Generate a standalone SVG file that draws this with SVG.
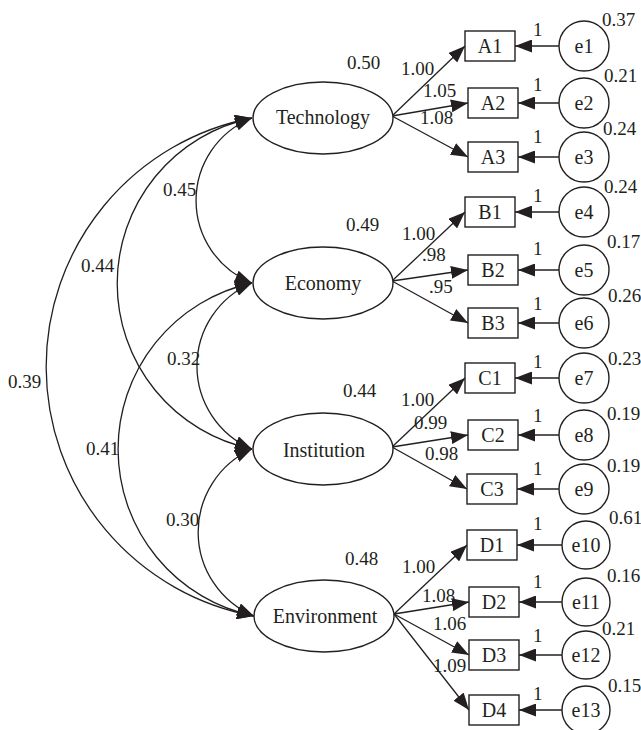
<svg xmlns="http://www.w3.org/2000/svg" width="641" height="730" viewBox="0 0 641 730" font-family="Liberation Serif, DejaVu Serif, serif">
<defs>
<marker id="ah" markerUnits="userSpaceOnUse" markerWidth="18" markerHeight="13" refX="17" refY="6.5" orient="auto-start-reverse">
<path d="M0,0 L17,6.5 L0,13 z" fill="#231f20"/>
</marker>
</defs>
<style>
.n{fill:#fff;stroke:#231f20;stroke-width:1.4}
.t{font-size:20px;fill:#231f20;text-anchor:middle}
.v{font-size:19px;fill:#231f20}
.c{fill:none;stroke:#231f20;stroke-width:1.3}
.a{marker-end:url(#ah)}
.b{marker-start:url(#ah);marker-end:url(#ah)}
</style>
<rect width="641" height="730" fill="#fff"/>
<g id="connectors">
<path class="c b" d="M252,118 A88.8,88.8 0 0,0 252,283"/>
<path class="c b" d="M252,283 A90.1,90.1 0 0,0 252,449"/>
<path class="c b" d="M252,449 A91,91 0 0,0 254,616"/>
<path class="c b" d="M252,118 A169,169 0 0,0 252,449"/>
<path class="c b" d="M252,283 A170.2,170.2 0 0,0 254,616"/>
<path class="c b" d="M252,118 A253.3,253.3 0 0,0 254,616"/>
<line class="c a" x1="392" y1="116" x2="465" y2="46"/>
<line class="c a" x1="392" y1="116" x2="468" y2="103"/>
<line class="c a" x1="392" y1="116" x2="468" y2="157"/>
<line class="c a" x1="392" y1="281" x2="465" y2="212"/>
<line class="c a" x1="392" y1="281" x2="468" y2="270"/>
<line class="c a" x1="392" y1="281" x2="468" y2="323"/>
<line class="c a" x1="392" y1="447" x2="465" y2="378"/>
<line class="c a" x1="392" y1="447" x2="468" y2="435"/>
<line class="c a" x1="392" y1="447" x2="467" y2="489"/>
<line class="c a" x1="394" y1="614" x2="467" y2="545"/>
<line class="c a" x1="394" y1="614" x2="469" y2="602"/>
<line class="c a" x1="394" y1="614" x2="469" y2="655"/>
<line class="c a" x1="394" y1="614" x2="469" y2="710"/>
<line class="c a" x1="559" y1="46" x2="515" y2="46"/>
<line class="c a" x1="559" y1="103" x2="518" y2="103"/>
<line class="c a" x1="559" y1="157" x2="518" y2="157"/>
<line class="c a" x1="559" y1="212" x2="515" y2="212"/>
<line class="c a" x1="559" y1="270" x2="518" y2="270"/>
<line class="c a" x1="559" y1="323" x2="518" y2="323"/>
<line class="c a" x1="559" y1="378" x2="515" y2="378"/>
<line class="c a" x1="559" y1="435" x2="518" y2="435"/>
<line class="c a" x1="559" y1="489" x2="517" y2="489"/>
<line class="c a" x1="562" y1="545" x2="517" y2="545"/>
<line class="c a" x1="562" y1="602" x2="519" y2="602"/>
<line class="c a" x1="562" y1="655" x2="519" y2="655"/>
<line class="c a" x1="562" y1="710" x2="519" y2="710"/>
</g>
<g id="labels">
<text class="v" x="163" y="196">0.45</text>
<text class="v" x="81" y="272">0.44</text>
<text class="v" x="167" y="365">0.32</text>
<text class="v" x="8" y="388">0.39</text>
<text class="v" x="86" y="455">0.41</text>
<text class="v" x="166" y="526">0.30</text>
<text class="v" x="347" y="69">0.50</text>
<text class="v" x="346" y="231">0.49</text>
<text class="v" x="343" y="397">0.44</text>
<text class="v" x="345" y="565">0.48</text>
<text class="v" x="401" y="75">1.00</text>
<text class="v" x="423" y="97">1.05</text>
<text class="v" x="420" y="124">1.08</text>
<text class="v" x="402" y="240">1.00</text>
<text class="v" x="422" y="261">.98</text>
<text class="v" x="429" y="293">.95</text>
<text class="v" x="401" y="406">1.00</text>
<text class="v" x="414" y="429">0.99</text>
<text class="v" x="425" y="460">0.98</text>
<text class="v" x="402" y="573">1.00</text>
<text class="v" x="422" y="602">1.08</text>
<text class="v" x="433" y="630">1.06</text>
<text class="v" x="433" y="672">1.09</text>
<text class="v" x="533" y="36">1</text>
<text class="v" x="533" y="91">1</text>
<text class="v" x="533" y="143">1</text>
<text class="v" x="533" y="202">1</text>
<text class="v" x="533" y="255">1</text>
<text class="v" x="533" y="310">1</text>
<text class="v" x="533" y="368">1</text>
<text class="v" x="533" y="422">1</text>
<text class="v" x="533" y="475">1</text>
<text class="v" x="533" y="530">1</text>
<text class="v" x="533" y="588">1</text>
<text class="v" x="533" y="642">1</text>
<text class="v" x="533" y="700">1</text>
<text class="v" x="602" y="26">0.37</text>
<text class="v" x="604" y="82">0.21</text>
<text class="v" x="603" y="135">0.24</text>
<text class="v" x="604" y="193">0.24</text>
<text class="v" x="607" y="248">0.17</text>
<text class="v" x="608" y="302">0.26</text>
<text class="v" x="608" y="365">0.23</text>
<text class="v" x="607" y="420">0.19</text>
<text class="v" x="607" y="472">0.19</text>
<text class="v" x="609" y="524">0.61</text>
<text class="v" x="607" y="582">0.16</text>
<text class="v" x="602" y="635">0.21</text>
<text class="v" x="608" y="692">0.15</text>
</g>
<g id="Technology"><ellipse class="n" cx="323" cy="118" rx="70" ry="36"/><text class="t" x="323" y="124">Technology</text></g>
<g id="Economy"><ellipse class="n" cx="323" cy="283" rx="70" ry="36"/><text class="t" x="323" y="290">Economy</text></g>
<g id="Institution"><ellipse class="n" cx="323" cy="449" rx="70" ry="36"/><text class="t" x="324" y="457">Institution</text></g>
<g id="Environment"><ellipse class="n" cx="324" cy="616" rx="70" ry="36"/><text class="t" x="325" y="623">Environment</text></g>
<g id="A1"><rect class="n" x="465" y="31" width="50" height="30"/><text class="t" x="490" y="53">A1</text></g>
<g id="A2"><rect class="n" x="468" y="88" width="50" height="30"/><text class="t" x="493" y="110">A2</text></g>
<g id="A3"><rect class="n" x="468" y="142" width="50" height="30"/><text class="t" x="493" y="164">A3</text></g>
<g id="B1"><rect class="n" x="465" y="197" width="50" height="30"/><text class="t" x="490" y="219">B1</text></g>
<g id="B2"><rect class="n" x="468" y="255" width="50" height="30"/><text class="t" x="493" y="277">B2</text></g>
<g id="B3"><rect class="n" x="468" y="308" width="50" height="30"/><text class="t" x="493" y="330">B3</text></g>
<g id="C1"><rect class="n" x="465" y="363" width="50" height="30"/><text class="t" x="490" y="385">C1</text></g>
<g id="C2"><rect class="n" x="468" y="420" width="50" height="30"/><text class="t" x="493" y="442">C2</text></g>
<g id="C3"><rect class="n" x="467" y="474" width="50" height="30"/><text class="t" x="492" y="496">C3</text></g>
<g id="D1"><rect class="n" x="467" y="530" width="50" height="30"/><text class="t" x="492" y="552">D1</text></g>
<g id="D2"><rect class="n" x="469" y="587" width="50" height="30"/><text class="t" x="494" y="609">D2</text></g>
<g id="D3"><rect class="n" x="469" y="640" width="50" height="30"/><text class="t" x="494" y="662">D3</text></g>
<g id="D4"><rect class="n" x="469" y="695" width="50" height="30"/><text class="t" x="494" y="717">D4</text></g>
<g id="e1"><circle class="n" cx="584" cy="46" r="25"/><text class="t" x="584" y="53">e1</text></g>
<g id="e2"><circle class="n" cx="584" cy="103" r="25"/><text class="t" x="584" y="110">e2</text></g>
<g id="e3"><circle class="n" cx="584" cy="157" r="25"/><text class="t" x="584" y="164">e3</text></g>
<g id="e4"><circle class="n" cx="584" cy="212" r="25"/><text class="t" x="584" y="219">e4</text></g>
<g id="e5"><circle class="n" cx="584" cy="270" r="25"/><text class="t" x="584" y="277">e5</text></g>
<g id="e6"><circle class="n" cx="584" cy="323" r="25"/><text class="t" x="584" y="330">e6</text></g>
<g id="e7"><circle class="n" cx="584" cy="378" r="25"/><text class="t" x="584" y="385">e7</text></g>
<g id="e8"><circle class="n" cx="584" cy="435" r="25"/><text class="t" x="584" y="442">e8</text></g>
<g id="e9"><circle class="n" cx="584" cy="489" r="25"/><text class="t" x="584" y="496">e9</text></g>
<g id="e10"><circle class="n" cx="586" cy="545" r="24"/><text class="t" x="586" y="552">e10</text></g>
<g id="e11"><circle class="n" cx="586" cy="602" r="24"/><text class="t" x="586" y="609">e11</text></g>
<g id="e12"><circle class="n" cx="586" cy="655" r="24"/><text class="t" x="586" y="662">e12</text></g>
<g id="e13"><circle class="n" cx="586" cy="710" r="24"/><text class="t" x="586" y="717">e13</text></g>
</svg>
